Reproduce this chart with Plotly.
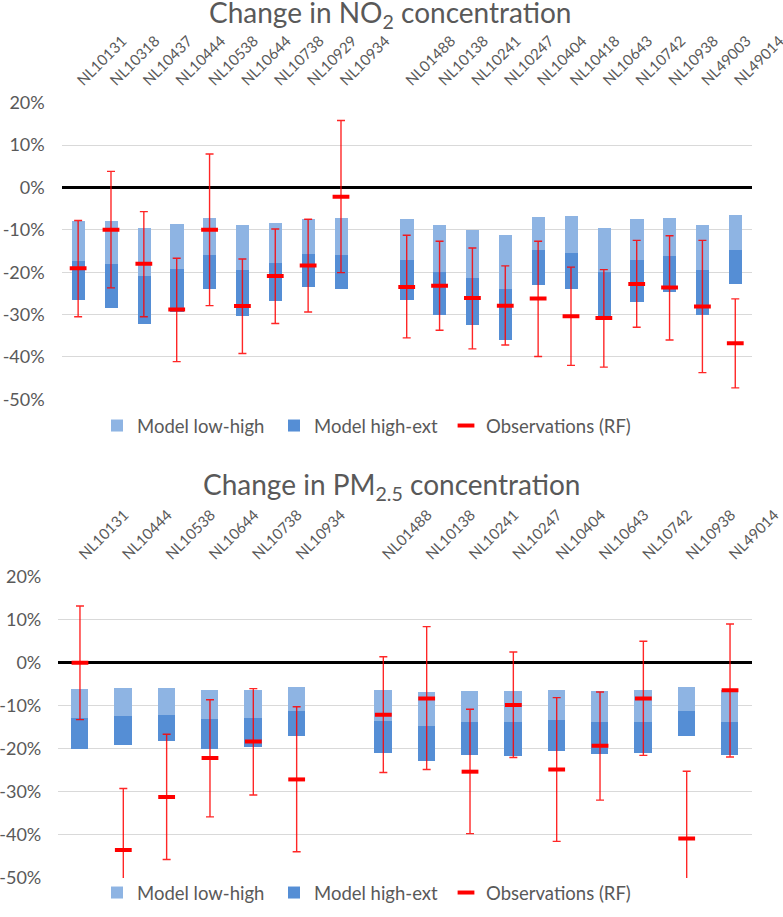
import plotly.graph_objects as go

# ---------------- data: NO2 ----------------
no2_left = ["NL10131", "NL10318", "NL10437", "NL10444", "NL10538", "NL10644", "NL10738", "NL10929", "NL10934"]
no2_right = ["NL01488", "NL10138", "NL10241", "NL10247", "NL10404", "NL10418", "NL10643", "NL10742", "NL10938", "NL49003", "NL49014"]
no2_low = [-7.8, -7.8, -9.4, -8.5, -7.1, -8.9, -8.4, -7.4, -7.1,
           -7.4, -8.9, -9.9, -11.2, -6.8, -6.7, -9.4, -7.3, -7.1, -8.9, -6.4]
no2_high = [-17.4, -18.1, -20.8, -19.1, -15.8, -19.5, -17.7, -15.7, -15.9,
            -17.0, -19.8, -21.2, -23.8, -14.8, -15.3, -20.0, -17.1, -16.0, -19.5, -14.6]
no2_ext = [-26.5, -28.3, -32.2, -29.4, -23.9, -30.3, -26.8, -23.5, -23.9,
           -26.5, -30.1, -32.4, -35.9, -23.0, -23.9, -30.6, -26.9, -24.5, -30.1, -22.8]
no2_obs = [-19.1, -10.0, -18.0, -28.8, -10.0, -28.0, -20.9, -18.4, -2.2,
           -23.5, -23.2, -26.1, -27.9, -26.2, -30.4, -30.8, -22.8, -23.6, -28.1, -36.8]
no2_obs_up = [-7.8, 3.8, -5.7, -16.7, 7.9, -16.9, -9.8, -7.5, 15.8,
              -11.3, -12.7, -14.3, -18.5, -12.7, -18.8, -19.4, -12.5, -11.4, -12.5, -26.3]
no2_obs_lo = [-30.5, -23.7, -30.5, -41.1, -27.9, -39.2, -32.1, -29.4, -20.1,
              -35.5, -33.7, -38.1, -37.2, -39.9, -42.0, -42.4, -33.0, -36.0, -43.7, -47.3]

# ---------------- data: PM2.5 ----------------
pm_left = ["NL10131", "NL10444", "NL10538", "NL10644", "NL10738", "NL10934"]
pm_right = ["NL01488", "NL10138", "NL10241", "NL10247", "NL10404", "NL10643", "NL10742", "NL10938", "NL49014"]
pm_low = [-6.0, -5.7, -5.9, -6.2, -6.2, -5.6,
          -6.3, -6.8, -6.6, -6.6, -6.2, -6.6, -6.3, -5.5, -6.2]
pm_high = [-12.8, -12.2, -12.0, -13.0, -12.8, -11.2,
           -13.5, -14.7, -13.8, -13.8, -13.3, -13.8, -13.6, -11.2, -13.8]
pm_ext = [-20.0, -19.0, -18.1, -20.0, -19.6, -17.0,
          -20.9, -22.8, -21.3, -21.5, -20.5, -21.1, -21.0, -17.0, -21.3]
pm_obs = [0.0, -43.5, -31.2, -22.1, -18.3, -27.1,
          -12.1, -8.3, -25.3, -9.8, -24.8, -19.3, -8.3, -40.8, -6.4]
pm_obs_up = [13.2, -29.2, -16.6, -8.6, -6.0, -10.2,
             1.4, 8.4, -10.8, 2.5, -8.1, -6.8, 5.0, -25.2, 9.0]
pm_obs_lo = [-13.2, -55.0, -45.7, -35.8, -30.7, -43.9,
             -25.5, -24.8, -39.7, -22.0, -41.5, -31.9, -21.5, -55.0, -21.9]

y_tickvals = [20, 10, 0, -10, -20, -30, -40, -50]
y_ticktext = ["20%", "10%", "0%", "-10%", "-20%", "-30%", "-40%", "-50%"]

LIGHT = "#8EB4E3"
DARK = "#558ED5"
RED = "#FF0000"
GRAY = "#595959"
FONT = "Lato"


def positions(left, right):
    return list(range(len(left))) + [len(left) + 1 + i for i in range(len(right))]


fig = go.Figure()


def add_panel(left, right, low, high, ext, obs, up, lo, xa, ya, legends):
    xs = positions(left, right)
    fig.add_trace(go.Bar(
        x=xs, y=[h - l for l, h in zip(low, high)], base=low,
        width=0.4, marker=dict(color=LIGHT, line=dict(width=0)),
        name="Model low-high", xaxis=xa, yaxis=ya, legend=legends[0], showlegend=True))
    fig.add_trace(go.Bar(
        x=xs, y=[e - h for h, e in zip(high, ext)], base=high,
        width=0.4, marker=dict(color=DARK, line=dict(width=0)),
        name="Model high-ext", xaxis=xa, yaxis=ya, legend=legends[1], showlegend=True))
    fig.add_trace(go.Scatter(
        x=xs, y=obs, mode="markers",
        marker=dict(symbol="line-ew", size=12, color=RED, line=dict(color=RED, width=4)),
        error_y=dict(type="data", symmetric=False,
                     array=[u - o for o, u in zip(obs, up)],
                     arrayminus=[o - l for o, l in zip(obs, lo)],
                     color="rgba(255,0,0,0.85)", thickness=1.4, width=4),
        name="Observations (RF)", xaxis=xa, yaxis=ya, legend=legends[2], showlegend=True))
    return xs


xs1 = add_panel(no2_left, no2_right, no2_low, no2_high, no2_ext, no2_obs, no2_obs_up, no2_obs_lo,
                "x", "y", ["legend", "legend2", "legend3"])
xs2 = add_panel(pm_left, pm_right, pm_low, pm_high, pm_ext, pm_obs, pm_obs_up, pm_obs_lo,
                "x2", "y2", ["legend4", "legend5", "legend6"])

W, H = 783, 917
xfont = dict(family=FONT, size=15, color=GRAY)
yfont = dict(family=FONT, size=18, color=GRAY)

common_x = dict(side="top", tickangle=-45, tickfont=xfont, showgrid=False, zeroline=False,
                showline=False, ticks="", ticklabelstandoff=10, automargin=False,
                ticklabeloverflow="allow")
common_y = dict(range=[-50, 20], tickvals=y_tickvals, ticktext=y_ticktext, tickfont=yfont,
                showgrid=True, gridcolor="#D9D9D9", gridwidth=1.3,
                zeroline=True, zerolinecolor="#000000", zerolinewidth=2.5,
                showline=False, ticks="", ticklabelstandoff=16, automargin=False)


def leg(xpx, ypx):
    return dict(orientation="h", xanchor="left", yanchor="middle", x=xpx / W, y=1 - ypx / H,
                font=dict(family=FONT, size=18.5, color=GRAY),
                itemwidth=30, bgcolor="rgba(0,0,0,0)", visible=True)


fig.update_layout(
    width=W, height=H,
    margin=dict(l=0, r=0, t=0, b=0),
    showlegend=True,
    plot_bgcolor="white", paper_bgcolor="white",
    barmode="overlay", bargap=0,
    font=dict(family=FONT, color=GRAY),
    xaxis=dict(domain=[61.7 / W, 751.7 / W], range=[-0.5, xs1[-1] + 0.5],
               tickvals=xs1, ticktext=no2_left + no2_right, anchor="y", **common_x),
    yaxis=dict(domain=[1 - 399.3 / H, 1 - 102.7 / H], anchor="x", **common_y),
    xaxis2=dict(domain=[58.3 / W, 751.7 / W], range=[-0.5, xs2[-1] + 0.5],
                tickvals=xs2, ticktext=pm_left + pm_right, anchor="y2", **common_x),
    yaxis2=dict(domain=[1 - 878 / H, 1 - 576.7 / H], anchor="x2", **common_y),
    legend=leg(97, 426), legend2=leg(274, 426), legend3=leg(446, 426),
    legend4=leg(97, 893), legend5=leg(274, 893), legend6=leg(446, 893),
    annotations=[
        dict(text="Change in NO<sub>2</sub> concentration", x=390 / W, y=1 - 14 / H,
             xref="paper", yref="paper", xanchor="center", yanchor="middle", showarrow=False,
             font=dict(family=FONT, size=28, color=GRAY)),
        dict(text="Change in PM<sub>2.5</sub> concentration", x=391 / W, y=1 - 486 / H,
             xref="paper", yref="paper", xanchor="center", yanchor="middle", showarrow=False,
             font=dict(family=FONT, size=28, color=GRAY)),
    ],
)

fig.write_html("out.html", config={"displayModeBar": False},
               post_script="document.body.style.margin='0';")
